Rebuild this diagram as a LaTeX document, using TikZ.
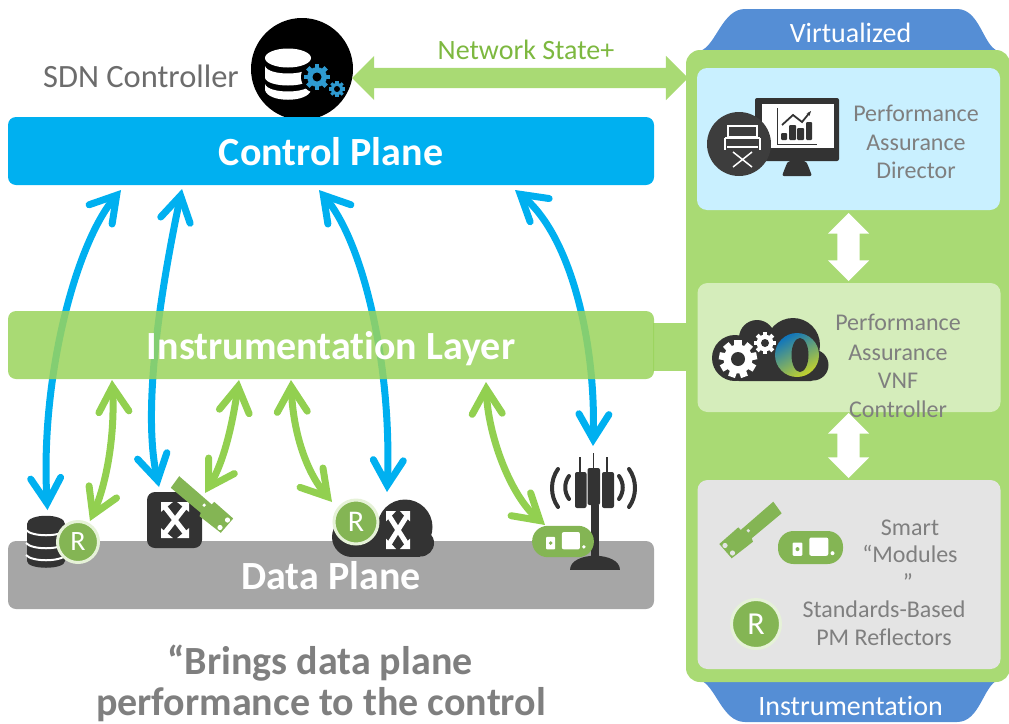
\documentclass[tikz,border=0pt]{standalone}
\usepackage{fontspec}
\setmainfont{Carlito}[Ligatures=NoCommon]
\usetikzlibrary{arrows.meta,shapes.arrows,calc}
\definecolor{ctlblue}{HTML}{00B0F0}
\definecolor{panelgreen}{HTML}{A9DA74}
\definecolor{layergreen}{HTML}{9AD45C}
\definecolor{arrowgreen}{HTML}{92D050}
\definecolor{tabblue}{HTML}{558ED5}
\definecolor{iconDark}{HTML}{333333}
\definecolor{modgreen}{HTML}{84B554}
\definecolor{halo}{HTML}{E6F2D8}
\definecolor{txtgray}{HTML}{7F7F7F}
\definecolor{gearblue}{HTML}{2E9AD0}
\definecolor{dirfill}{HTML}{C9F0FF}
\definecolor{vnffill}{HTML}{D5EDBB}
\definecolor{insfill}{HTML}{E4E4E4}
\definecolor{datagray}{HTML}{A6A6A6}
\definecolor{netgreen}{HTML}{7DB840}
\definecolor{ringblue}{HTML}{0F75BD}
\definecolor{ringyellow}{HTML}{C4D22C}
\newcommand{\fsz}[1]{\fontsize{#1}{#1}\selectfont}
\tikzset{
  planebar/.style={rectangle,rounded corners=8pt,inner sep=0pt,minimum width=646pt,minimum height=68pt,
     text=white,font=\fsz{40}\bfseries,text height=28pt,text depth=0pt},
  infobox/.style={rectangle,rounded corners=10pt,inner sep=0pt},
  grayline/.style={anchor=base,text=txtgray,font=\fsz{24},inner sep=0pt},
  taglabel/.style={anchor=base,text=white,font=\fsz{28},inner sep=0pt},
  footline/.style={anchor=base,text=txtgray,font=\fsz{40}\bfseries,inner sep=0pt},
  barb/.tip={Straight Barb[length=25pt,width=30pt,line cap=round,line join=miter]},
  bluearrow/.style={draw=ctlblue,line width=7pt,barb-barb},
  greenarrow/.style={draw=arrowgreen,line width=7pt,barb-barb},
  whitearrow/.style={double arrow,fill=white,inner sep=0pt,minimum width=41pt,text width=0pt,text height=11pt,text depth=11pt,
     double arrow head extend=9.5pt,double arrow tip angle=90,rotate=90},
  rbadge/.style={circle,fill=modgreen,draw=halo,line width=3pt,inner sep=0pt,text=white},
}
% gear: cx cy R hole teeth colour holecolour
\newcommand{\gearicon}[7]{%
 \begin{scope}[shift={(#1,#2)}]
  \fill[#6] (0,0) circle[radius={0.76*#3}];
  \foreach \gi in {1,...,#5}{%
    \fill[#6,rotate={\gi*360/#5}] ({-0.19*#3},{-#3}) rectangle ({0.19*#3},0);}
  \fill[#7] (0,0) circle[radius=#4];
 \end{scope}}
% white four-way X in a unit square
\newcommand{\xicon}[4]{%
 \begin{scope}[shift={(#1,#2)},x=#3pt,y=#4pt]
  \draw[white,line width=5pt] (-.75,-.75) -- (.75,.75) (-.75,.75) -- (.75,-.75);
  \fill[white] (-1,-1)--(-.15,-1)--(-1,-.45)--cycle (1,-1)--(.15,-1)--(1,-.45)--cycle
               (-1,1)--(-.15,1)--(-1,.45)--cycle (1,1)--(.15,1)--(1,.45)--cycle;
 \end{scope}}
% module strip: local origin is the narrow end
\newcommand{\modstrip}[1]{%
  \fill[modgreen] (-4.2,-5.8)--(4.2,5.8)--(-25.8,30.8)--(-24.5,34.2)--(-45.8,50.8)--(-58.2,36.5)--(-39.2,19.8)--(-36.8,22.5)--cycle;
  \fill[#1] (-29.2,23.2) circle[radius=1.8] (-52.5,38) circle[radius=2.6] (-45,45.5) circle[radius=2.6];}
% pill module
\newcommand{\modpill}{%
  \fill[modgreen,rounded corners=15.5pt] (-32.5,-16.5) rectangle (32.5,16.5);
  \fill[white,rounded corners=1pt] (-17.8,-5) rectangle (-8.2,8.3);
  \fill[modgreen] (-13,1.6) circle[radius=2];
  \fill[white,rounded corners=2pt] (-1.2,-10) rectangle (17.8,8.3);
  \fill[white] (22,5.7) circle[radius=2];}
\begin{document}
\begin{tikzpicture}[x=1pt,y=-1pt,line cap=butt]
\useasboundingbox (0,0) rectangle (1009,723);
\clip (0,0) rectangle (1009,723);

% --- controller
\node[circle,fill=black,minimum size=102pt,inner sep=0pt] (ctl) at (302,69) {};
\fill[white] (288,58) ellipse[x radius=23,y radius=9.5];
\fill[white] (265,66) .. controls (268,76) and (308,76) .. (311,66) -- (311,78) .. controls (308,88) and (268,88) .. (265,78) -- cycle;
\fill[white] (265,84) .. controls (268,94) and (308,94) .. (311,84) -- (311,90) .. controls (308,103) and (268,103) .. (265,90) -- cycle;
\fill[black] (317,77) circle[radius=16];
\gearicon{317}{77}{13}{4.5}{8}{gearblue}{black}
\gearicon{337}{89}{8}{3}{8}{gearblue}{black}
\node[anchor=base,text=txtgray!85!black,font=\fsz{32.5},inner sep=0pt] (sdn) at (141,87) {SDN Controller};

% --- side panel
\fill[tabblue] (700,51) .. controls (716,46) and (722,9) .. (745,9) -- (957,9) .. controls (980,9) and (983,46) .. (998,51) -- cycle;
\fill[tabblue] (700,680) .. controls (716,686) and (722,722) .. (745,722) -- (957,722) .. controls (980,722) and (983,686) .. (998,680) -- cycle;
\node[rectangle,rounded corners=14pt,fill=panelgreen,inner sep=0pt,minimum width=324pt,minimum height=632pt] (panel) at (848,366) {};
\node[taglabel] (virt) at (850.5,42) {Virtualized};
\node[taglabel] (inst) at (850.5,715) {Instrumentation};
\node[rectangle,fill=panelgreen,inner sep=0pt,minimum width=34pt,minimum height=48pt] (stub) at (670,347) {};

\node[infobox,fill=dirfill,minimum width=303pt,minimum height=142pt] (dirbox) at (848.5,139) {};
\node[infobox,fill=vnffill,minimum width=303pt,minimum height=129pt] (vnfbox) at (849,347.5) {};
\node[infobox,fill=insfill,minimum width=303pt,minimum height=189pt] (insbox) at (849,574.5) {};

\node[grayline] (d1) at (916,121) {Performance};
\node[grayline] (d2) at (916,150) {Assurance};
\node[grayline] (d3) at (916,178) {Director};
\node[grayline] (v1) at (898,330) {Performance};
\node[grayline] (v2) at (898,360) {Assurance};
\node[grayline] (v3) at (898,388) {VNF};
\node[grayline] (v4) at (898,417) {Controller};
\node[grayline] (s1) at (910,535) {Smart};
\node[grayline] (s2) at (910,562) {“Modules};
\node[grayline] (s3) at (908,590) {”};
\node[grayline] (s4) at (884,617) {Standards-Based};
\node[grayline] (s5) at (884,645) {PM Reflectors};

\node[whitearrow,minimum height=68pt] (wa1) at (848.5,247) {};
\node[whitearrow,minimum height=65pt] (wa2) at (848.5,445.5) {};

% --- director icon
\fill[iconDark,rounded corners=2pt] (755,98) rectangle (839,161);
\fill[white] (762,104) rectangle (834,148);
\fill[iconDark,rounded corners=2pt] (782,176) -- (785,168) -- (788,161) -- (806,161) -- (809,168) -- (812,176) -- cycle;
\draw[iconDark,line width=1pt] (777,108) -- (777,144) -- (817,144);
\fill[iconDark,rounded corners=1pt] (781,133) rectangle (787,140) (789,125) rectangle (796,140) (797,128) rectangle (804,140) (806,122) rectangle (812,140);
\draw[iconDark,line width=1.8pt,-{Stealth[length=5pt]}] (782,125) -- (793,115) -- (802,122) -- (811,111);
\node[circle,fill=iconDark!95!white,minimum size=64pt,inner sep=0pt] (chair) at (739,144) {};
\draw[white,line width=1.3pt] (728,126) rectangle (757,137);
\draw[white,line width=1.5pt] (725,138) -- (760,138) (725,138) -- (725,150) (760,138) -- (760,150) (727,147) -- (758,147);
\draw[white,line width=1.5pt] (733,152) -- (752,167) (752,152) -- (733,167);

% --- vnf icon
\begin{scope}[iconDark]
\fill (735,358) circle[radius=23];
\fill (757,338) circle[radius=18];
\fill (793,345) circle[radius=27];
\fill (813,365) circle[radius=15.5];
\fill[rounded corners=4pt] (735,352) rectangle (815,381);
\end{scope}
\gearicon{738}{359}{19}{7}{9}{white}{iconDark}
\gearicon{765}{343}{11}{4}{8}{white}{iconDark}
\shade[shading=axis,top color=ringblue,bottom color=ringyellow,shading angle=30] (797,355) circle[radius=22];
\fill[iconDark] (800,355) ellipse[x radius=8.5,y radius=17];

% --- instrumentation legend icons
\begin{scope}[shift={(777.5,507.5)}]\modstrip{insfill}\end{scope}
\begin{scope}[shift={(810.5,547.5)}]\modpill\end{scope}
\node[rbadge,minimum size=49pt,font=\fsz{32}] (r4) at (756,624) {R};

% --- connector end points
\coordinate (b1c) at (121,190); \coordinate (b1d) at (47.5,510);
\coordinate (b2c) at (182,189); \coordinate (b2d) at (159,487);
\coordinate (b3c) at (319,190); \coordinate (b3d) at (387,492);
\coordinate (b4c) at (515,190); \coordinate (b4d) at (593,446);

% --- data plane
\node[planebar,fill=datagray] (data) at (331,575) {Data Plane};
% database with reflector
\fill[iconDark] (27,524) .. controls (27,513) and (65,513) .. (65,524) -- (65,561) .. controls (65,570) and (27,570) .. (27,561) -- cycle;
\draw[white,line width=2pt] (26,530) .. controls (32,537) and (60,537) .. (66,530) (26,543) .. controls (32,550) and (60,550) .. (66,543) (26,555) .. controls (32,562) and (60,562) .. (66,555);
\node[rbadge,minimum size=41pt,font=\fsz{28}] (r1) at (78,542) {R};
% switch
\fill[iconDark,rounded corners=8pt] (147,492) rectangle (202,548);
\xicon{175}{520}{14}{18}
\begin{scope}[shift={(175,482)},xscale=-1]\modstrip{white}\end{scope}
% cloud switch with reflector
\begin{scope}[iconDark]
\fill (352,537) circle[radius=20];
\fill (405,527) circle[radius=27.5];
\fill (420.5,543) circle[radius=13.5];
\fill (352,530) rectangle (420,557);
\end{scope}
\xicon{398}{530}{12}{19}
\node[rbadge,minimum size=44pt,font=\fsz{30}] (r2) at (356,522) {R};
% tower
\begin{scope}[iconDark]
\fill (591,505) rectangle (598.5,558);
\fill (569.5,570) .. controls (569.5,551) and (619.5,551) .. (619.5,570) -- cycle;
\fill[rounded corners=2pt] (575,472) rectangle (586.5,508) (587.5,468) rectangle (600,505) (602,472) rectangle (614,508);
\draw[line width=1.6pt] (580,457) -- (580,472) (593.5,453) -- (593.5,468) (607,457) -- (607,472);
\draw[line width=4pt,line cap=round] (558,469) .. controls (550,480) and (550,496) .. (558,507)
   (569,476) .. controls (564,483) and (564,492) .. (569,499)
   (629,469) .. controls (637,480) and (637,496) .. (629,507)
   (619,476) .. controls (624,483) and (624,492) .. (619,499);
\end{scope}
\begin{scope}[shift={(563,541.5)},scale=.95]\modpill\end{scope}

% --- blue arrows
\draw[bluearrow] (b1c) .. controls (75,245) and (40,380) .. (b1d);
\draw[bluearrow] (b2c) .. controls (167,260) and (140,400) .. (b2d);
\draw[bluearrow] (b3c) .. controls (365,245) and (392,370) .. (b3d);
\draw[bluearrow] (b4c) .. controls (570,235) and (596,340) .. (b4d);

% --- bars
\node[planebar,fill=layergreen,fill opacity=.85,text opacity=1] (layer) at (331,345) {Instrumentation Layer};
\node[planebar,fill=ctlblue] (control) at (331,151) {Control Plane};

% --- green arrows
\coordinate (g1a) at (112,380); \coordinate (g1b) at (90,521);
\coordinate (g2a) at (239,380); \coordinate (g2b) at (205,493);
\coordinate (g3a) at (291,380); \coordinate (g3b) at (332,502);
\coordinate (g4a) at (486,382); \coordinate (g4b) at (545,525);
\draw[greenarrow] (g1a) .. controls (115,430) and (108,480) .. (g1b);
\draw[greenarrow] (g2a) .. controls (233,420) and (225,460) .. (g2b);
\draw[greenarrow] (g3a) .. controls (293,430) and (305,470) .. (g3b);
\draw[greenarrow] (g4a) .. controls (488,435) and (510,495) .. (g4b);

% --- network state arrow
\node[double arrow,fill=panelgreen,inner sep=0pt,text width=0pt,text height=10pt,text depth=10pt,minimum height=336pt,minimum width=44pt,
  double arrow head extend=12pt,double arrow tip angle=90] (net) at (520,78) {};
\node[anchor=base,text=netgreen,font=\fsz{28},inner sep=0pt] (netlab) at (526,59) {Network State+};

% --- footer
\node[footline] (f1) at (320,674) {“Brings data plane};
\node[footline] (f2) at (321,715) {performance to the control};
\end{tikzpicture}
\end{document}
